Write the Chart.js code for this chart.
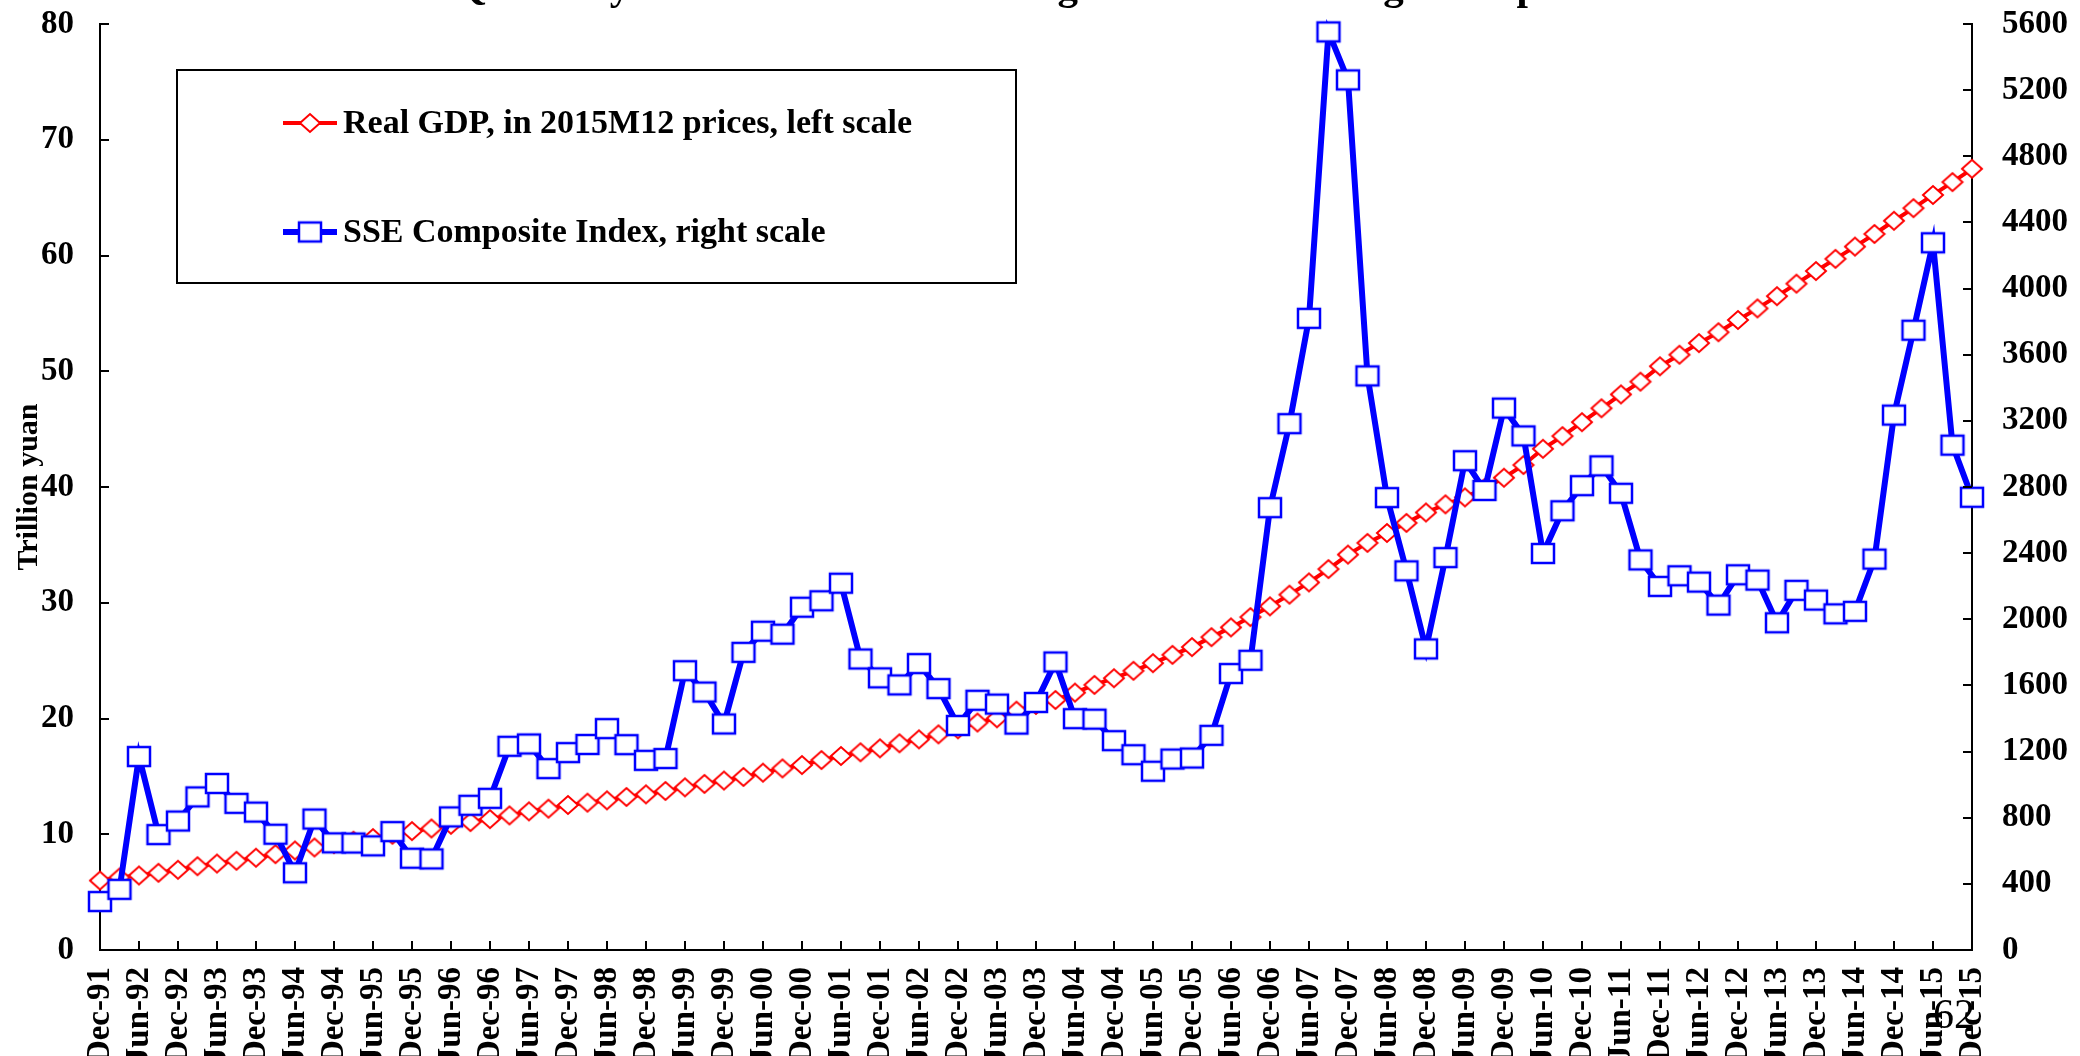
<!DOCTYPE html>
<html>
<head>
<meta charset="utf-8">
<script src="https://cdn.jsdelivr.net/npm/chart.js@4.4.1/dist/chart.umd.min.js"></script>
<style>
html,body{margin:0;padding:0;background:#fff;overflow:hidden}
#wrap{width:2080px;height:1056px;position:relative;background:#fff}
canvas{display:block}
</style>
</head>
<body>
<div id="wrap"><canvas id="c" width="2080" height="1056"></canvas></div>
<script>
// ---------------- data ----------------
const quarters = [
  'Dec-91',
  'Mar-92','Jun-92','Sep-92','Dec-92',
  'Mar-93','Jun-93','Sep-93','Dec-93',
  'Mar-94','Jun-94','Sep-94','Dec-94',
  'Mar-95','Jun-95','Sep-95','Dec-95',
  'Mar-96','Jun-96','Sep-96','Dec-96',
  'Mar-97','Jun-97','Sep-97','Dec-97',
  'Mar-98','Jun-98','Sep-98','Dec-98',
  'Mar-99','Jun-99','Sep-99','Dec-99',
  'Mar-00','Jun-00','Sep-00','Dec-00',
  'Mar-01','Jun-01','Sep-01','Dec-01',
  'Mar-02','Jun-02','Sep-02','Dec-02',
  'Mar-03','Jun-03','Sep-03','Dec-03',
  'Mar-04','Jun-04','Sep-04','Dec-04',
  'Mar-05','Jun-05','Sep-05','Dec-05',
  'Mar-06','Jun-06','Sep-06','Dec-06',
  'Mar-07','Jun-07','Sep-07','Dec-07',
  'Mar-08','Jun-08','Sep-08','Dec-08',
  'Mar-09','Jun-09','Sep-09','Dec-09',
  'Mar-10','Jun-10','Sep-10','Dec-10',
  'Mar-11','Jun-11','Sep-11','Dec-11',
  'Mar-12','Jun-12','Sep-12','Dec-12',
  'Mar-13','Jun-13','Sep-13','Dec-13',
  'Mar-14','Jun-14','Sep-14','Dec-14',
  'Mar-15','Jun-15','Sep-15','Dec-15'
];

// Real GDP, trillion yuan in 2015M12 prices (left scale)
const gdpTrillion = [
  6.00,
  6.26, 6.44, 6.67, 6.93,
  7.24, 7.47, 7.71, 7.97,
  8.28, 8.60, 8.86, 9.15,
  9.44, 9.67, 9.96, 10.27,
  10.50, 10.82, 11.05, 11.31,
  11.63, 11.98, 12.21, 12.53,
  12.73, 12.93, 13.22, 13.45,
  13.74, 14.05, 14.35, 14.64,
  14.95, 15.32, 15.69, 15.98,
  16.41, 16.76, 17.08, 17.42,
  17.86, 18.20, 18.63, 19.07,
  19.65, 20.02, 20.68, 21.17,
  21.60, 22.24, 22.90, 23.48,
  24.12, 24.78, 25.50, 26.17,
  27.03, 27.87, 28.76, 29.69,
  30.70, 31.76, 32.91, 34.16,
  35.17, 36.03, 36.90, 37.80,
  38.50, 39.10, 39.90, 40.80,
  41.90, 43.30, 44.40, 45.60,
  46.80, 48.00, 49.10, 50.43,
  51.43, 52.43, 53.37, 54.43,
  55.43, 56.49, 57.57, 58.66,
  59.71, 60.77, 61.86, 63.00,
  64.09, 65.23, 66.34, 67.49
];

// SSE Composite Index, quarter end (right scale)
const sseIndex = [
  293,
  367, 1170, 698, 780,
  926, 1007, 887, 834,
  700, 467, 792, 648,
  647, 630, 716, 555,
  551, 805, 875, 917,
  1232, 1246, 1097, 1194,
  1243, 1339, 1242, 1147,
  1158, 1689, 1560, 1367,
  1800, 1928, 1910, 2073,
  2112, 2218, 1760, 1646,
  1603, 1732, 1581, 1358,
  1510, 1487, 1366, 1497,
  1742, 1399, 1396, 1266,
  1181, 1081, 1155, 1161,
  1298, 1672, 1752, 2675,
  3183, 3820, 5552, 5262,
  3472, 2736, 2293, 1821,
  2373, 2959, 2779, 3277,
  3109, 2398, 2656, 2808,
  2928, 2762, 2359, 2199,
  2263, 2225, 2086, 2269,
  2237, 1979, 2175, 2116,
  2033, 2048, 2364, 3235,
  3748, 4277, 3053, 2738
];

const leftTickValues  = [0, 10, 20, 30, 40, 50, 60, 70, 80];
const rightTickValues = [0, 400, 800, 1200, 1600, 2000, 2400, 2800, 3200, 3600, 4000, 4400, 4800, 5200, 5600];
const shownMonths = ['Dec', 'Jun'];

const gdpLabel = 'Real GDP, in 2015M12 prices, left scale';
const sseLabel = 'SSE Composite Index, right scale';
const leftAxisTitle = 'Trillion yuan';
const chartTitle = 'Quarterly Real GDP and the Shanghai Stock Exchange Composite Index';
const pageNumber = '62';

// ---------------- styling ----------------
const FONT = "'Liberation Serif', 'Times New Roman', Times, serif";
const RED = '#ff0000';
const BLUE = '#0000ff';

function makeMarker(kind, w, h, color, lw) {
  const pad = Math.ceil(lw) + 1;
  const c = document.createElement('canvas');
  c.width = w + 2 * pad;
  c.height = h + 2 * pad;
  const g = c.getContext('2d');
  const cx = c.width / 2, cy = c.height / 2;
  g.fillStyle = '#ffffff';
  g.strokeStyle = color;
  g.lineWidth = lw;
  g.lineJoin = 'miter';
  g.beginPath();
  if (kind === 'diamond') {
    g.moveTo(cx - w / 2, cy);
    g.lineTo(cx, cy - h / 2);
    g.lineTo(cx + w / 2, cy);
    g.lineTo(cx, cy + h / 2);
    g.closePath();
  } else {
    g.rect(cx - w / 2, cy - h / 2, w, h);
  }
  g.fill();
  g.stroke();
  return c;
}
const diamondImg = makeMarker('diamond', 20, 18, RED, 2);
const squareImg = makeMarker('square', 22, 19, BLUE, 2.5);

const TICK_LEN = 9;

const decorPlugin = {
  id: 'decor',
  afterDraw(chart) {
    const ctx = chart.ctx;
    const area = chart.chartArea;
    ctx.save();
    // inward tick marks
    ctx.strokeStyle = '#000';
    ctx.lineWidth = 2;
    ctx.beginPath();
    const xs = chart.scales.x;
    xs.ticks.forEach(t => {
      const x = Math.round(xs.getPixelForValue(t.value));
      ctx.moveTo(x, area.bottom);
      ctx.lineTo(x, area.bottom - TICK_LEN);
    });
    const yl = chart.scales.yL;
    yl.ticks.forEach(t => {
      const y = Math.round(yl.getPixelForValue(t.value));
      ctx.moveTo(area.left, y);
      ctx.lineTo(area.left + TICK_LEN, y);
    });
    const yr = chart.scales.yR;
    yr.ticks.forEach(t => {
      const y = Math.round(yr.getPixelForValue(t.value));
      ctx.moveTo(area.right, y);
      ctx.lineTo(area.right - TICK_LEN, y);
    });
    ctx.stroke();

    // legend box
    const box = {x: 177, y: 70, w: 839, h: 213};
    ctx.fillStyle = '#fff';
    ctx.fillRect(box.x, box.y, box.w, box.h);
    ctx.strokeStyle = '#000';
    ctx.lineWidth = 2;
    ctx.strokeRect(box.x, box.y, box.w, box.h);
    const rows = [123, 232];
    chart.data.datasets.forEach((ds, i) => {
      const y = rows[i];
      ctx.strokeStyle = ds.borderColor;
      ctx.lineWidth = ds.borderWidth;
      ctx.beginPath();
      ctx.moveTo(283, y);
      ctx.lineTo(337, y);
      ctx.stroke();
      const img = ds.pointStyle;
      ctx.drawImage(img, 310 - img.width / 2, y - img.height / 2);
      ctx.fillStyle = '#000';
      ctx.font = 'bold 34px ' + FONT;
      ctx.textAlign = 'left';
      ctx.textBaseline = 'middle';
      ctx.fillText(ds.label, 343, y + 1);
    });

    // clipped slide title at the very top
    ctx.fillStyle = '#000';
    ctx.font = 'bold 41px ' + FONT;
    ctx.textAlign = 'left';
    ctx.textBaseline = 'alphabetic';
    ctx.fillText(chartTitle, 455, -1);

    // page number
    ctx.font = '42px ' + FONT;
    ctx.fillText(pageNumber, 1933, 1028);
    ctx.restore();
  }
};

const tickFont = {family: FONT, size: 33, weight: 'bold'};

new Chart(document.getElementById('c').getContext('2d'), {
  type: 'line',
  data: {
    labels: quarters,
    datasets: [
      {
        label: gdpLabel,
        data: gdpTrillion,
        yAxisID: 'yL',
        borderColor: RED,
        backgroundColor: '#fff',
        borderWidth: 4,
        pointStyle: diamondImg,
        pointRadius: 9,
        tension: 0,
        clip: false,
        order: 2
      },
      {
        label: sseLabel,
        data: sseIndex,
        yAxisID: 'yR',
        borderColor: BLUE,
        backgroundColor: '#fff',
        borderWidth: 6,
        pointStyle: squareImg,
        pointRadius: 10,
        tension: 0,
        clip: false,
        order: 1
      }
    ]
  },
  options: {
    responsive: false,
    animation: false,
    devicePixelRatio: 1,
    events: [],
    layout: {padding: {top: 24, left: 0, right: 0, bottom: 0}},
    plugins: {
      legend: {display: false},
      tooltip: {enabled: false},
      title: {display: false}
    },
    scales: {
      x: {
        type: 'category',
        offset: false,
        grid: {display: false, drawTicks: false},
        border: {display: true, color: '#000', width: 2},
        ticks: {
          autoSkip: false,
          minRotation: 90,
          maxRotation: 90,
          padding: 17,
          color: '#000',
          font: tickFont,
          callback: function (v) { return quarters[v]; }
        },
        afterBuildTicks(s) {
          s.ticks = s.ticks.filter(t => shownMonths.includes(quarters[t.value].slice(0, 3)));
        },
        afterFit(s) { s.height = 106; s.paddingLeft = 0; s.paddingRight = 0; }
      },
      yL: {
        type: 'linear',
        position: 'left',
        min: 0,
        max: 80,
        grid: {display: false, drawTicks: false},
        border: {display: true, color: '#000', width: 2},
        ticks: {
          padding: 26,
          color: '#000',
          font: tickFont,
          callback: v => String(v)
        },
        afterBuildTicks(s) { s.ticks = leftTickValues.map(v => ({value: v})); },
        title: {
          display: true,
          text: leftAxisTitle,
          color: '#000',
          font: {family: FONT, size: 30, weight: 'bold'},
          padding: {top: 11, bottom: 0}
        },
        afterFit(s) { s.width = 100; s.paddingTop = 0; s.paddingBottom = 0; }
      },
      yR: {
        type: 'linear',
        position: 'right',
        min: 0,
        max: 5600,
        grid: {display: false, drawTicks: false},
        border: {display: true, color: '#000', width: 2},
        ticks: {
          padding: 30,
          color: '#000',
          font: tickFont,
          callback: v => String(v)
        },
        afterBuildTicks(s) { s.ticks = rightTickValues.map(v => ({value: v})); },
        afterFit(s) { s.width = 108; s.paddingTop = 0; s.paddingBottom = 0; }
      }
    }
  },
  plugins: [decorPlugin]
});
</script>
</body>
</html>
